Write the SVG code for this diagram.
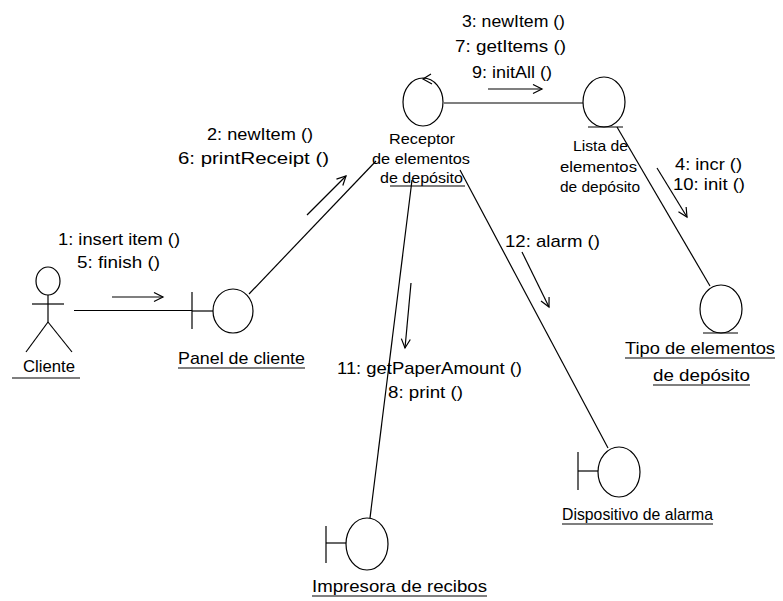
<svg xmlns="http://www.w3.org/2000/svg" width="783" height="601" viewBox="0 0 783 601">
<style>
.s{fill:none;stroke:#000;stroke-width:1.2}
.t{font-family:"Liberation Sans",Arial,sans-serif;font-size:17px;fill:#000}
.n{font-size:15.5px}
.m{fill:none;stroke:#000;stroke-width:1.2;marker-end:url(#ah)}
</style>
<defs>
<marker id="ah" markerWidth="12" markerHeight="12" refX="10" refY="5" orient="auto" markerUnits="userSpaceOnUse">
<path d="M1,0.5 L10,5 L1,9.5" fill="none" stroke="#000" stroke-width="1.2"/>
</marker>
</defs>
<rect width="783" height="601" fill="#fff"/>
<g id="connectors">
<line class="s" x1="74" y1="310.5" x2="192" y2="310.5"/>
<line class="s" x1="249" y1="294" x2="376" y2="161"/>
<line class="s" x1="444" y1="103" x2="583" y2="103"/>
<line class="s" x1="617" y1="127" x2="710" y2="286"/>
<line class="s" x1="412" y1="180" x2="370" y2="518"/>
<line class="s" x1="460" y1="170" x2="608" y2="448"/>
<line class="m" x1="112" y1="297" x2="163" y2="297"/>
<line class="m" x1="307" y1="215" x2="346" y2="176"/>
<line class="m" x1="488" y1="89" x2="542" y2="89"/>
<line class="m" x1="657" y1="168" x2="687" y2="217"/>
<line class="m" x1="411" y1="283" x2="405" y2="348"/>
<line class="m" x1="522" y1="252" x2="549" y2="307"/>
<text class="t" x="58" y="245" textLength="122" lengthAdjust="spacingAndGlyphs">1: insert item ()</text>
<text class="t" x="77" y="268" textLength="83" lengthAdjust="spacingAndGlyphs">5: finish ()</text>
<text class="t" x="207" y="140" textLength="106" lengthAdjust="spacingAndGlyphs">2: newItem ()</text>
<text class="t" x="178" y="164" textLength="151" lengthAdjust="spacingAndGlyphs">6: printReceipt ()</text>
<text class="t" x="462" y="27" textLength="103" lengthAdjust="spacingAndGlyphs">3: newItem ()</text>
<text class="t" x="455" y="52" textLength="111" lengthAdjust="spacingAndGlyphs">7: getItems ()</text>
<text class="t" x="472" y="78" textLength="80" lengthAdjust="spacingAndGlyphs">9: initAll ()</text>
<text class="t" x="675" y="170" textLength="67" lengthAdjust="spacingAndGlyphs">4: incr ()</text>
<text class="t" x="673" y="190" textLength="72" lengthAdjust="spacingAndGlyphs">10: init ()</text>
<text class="t" x="505" y="247" textLength="95" lengthAdjust="spacingAndGlyphs">12: alarm ()</text>
<text class="t" x="337" y="374" textLength="185" lengthAdjust="spacingAndGlyphs">11: getPaperAmount ()</text>
<text class="t" x="388" y="398" textLength="75" lengthAdjust="spacingAndGlyphs">8: print ()</text>
</g>
<g id="cliente">
<ellipse class="s" cx="48" cy="281" rx="12" ry="14"/>
<line class="s" x1="48" y1="295" x2="48" y2="322"/>
<line class="s" x1="32" y1="304" x2="64" y2="304"/>
<line class="s" x1="48" y1="322" x2="26" y2="352"/>
<line class="s" x1="48" y1="322" x2="72" y2="352"/>
<text class="t" x="23" y="372" textLength="52" lengthAdjust="spacingAndGlyphs">Cliente</text>
<line class="s" x1="12" y1="378" x2="80" y2="378"/>
</g>
<g id="panel">
<ellipse class="s" cx="233" cy="311" rx="20" ry="22"/>
<line class="s" x1="192" y1="292" x2="192" y2="329"/>
<line class="s" x1="192" y1="311" x2="213" y2="311"/>
<text class="t" x="178" y="364" textLength="127" lengthAdjust="spacingAndGlyphs">Panel de cliente</text>
<line class="s" x1="178" y1="368" x2="305" y2="368"/>
</g>
<g id="receptor">
<ellipse class="s" cx="423" cy="102" rx="20" ry="24"/>
<path class="s" d="M431,74 L423,79 L432,84"/>
<text class="t n" x="389" y="144" textLength="66" lengthAdjust="spacingAndGlyphs">Receptor</text>
<text class="t n" x="372" y="164" textLength="98" lengthAdjust="spacingAndGlyphs">de elementos</text>
<text class="t n" x="380" y="183" textLength="83" lengthAdjust="spacingAndGlyphs">de depósito</text>
<line class="s" x1="390" y1="186" x2="465" y2="186"/>
</g>
<g id="lista">
<ellipse class="s" cx="604" cy="102" rx="21" ry="25"/>
<line class="s" x1="588" y1="127" x2="623" y2="127"/>
<text class="t n" x="573" y="151" textLength="55" lengthAdjust="spacingAndGlyphs">Lista de</text>
<text class="t n" x="560" y="172" textLength="77" lengthAdjust="spacingAndGlyphs">elementos</text>
<text class="t n" x="560" y="192" textLength="80" lengthAdjust="spacingAndGlyphs">de depósito</text>
</g>
<g id="tipo">
<ellipse class="s" cx="721" cy="309" rx="21" ry="24"/>
<line class="s" x1="703" y1="333" x2="738" y2="333"/>
<text class="t" x="625" y="354" textLength="150" lengthAdjust="spacingAndGlyphs">Tipo de elementos</text>
<line class="s" x1="625" y1="358" x2="775" y2="358"/>
<text class="t" x="653" y="381" textLength="97" lengthAdjust="spacingAndGlyphs">de depósito</text>
<line class="s" x1="653" y1="385" x2="750" y2="385"/>
</g>
<g id="impresora">
<ellipse class="s" cx="367" cy="544" rx="21" ry="26"/>
<line class="s" x1="326" y1="526" x2="326" y2="563"/>
<line class="s" x1="326" y1="543" x2="346" y2="543"/>
<text class="t" x="312" y="592" textLength="175" lengthAdjust="spacingAndGlyphs">Impresora de recibos</text>
<line class="s" x1="312" y1="596" x2="487" y2="596"/>
</g>
<g id="dispositivo">
<ellipse class="s" cx="619" cy="472" rx="21" ry="25"/>
<line class="s" x1="578" y1="452" x2="578" y2="490"/>
<line class="s" x1="578" y1="471" x2="598" y2="471"/>
<text class="t" x="562" y="520" textLength="151" lengthAdjust="spacingAndGlyphs">Dispositivo de alarma</text>
<line class="s" x1="562" y1="524" x2="713" y2="524"/>
</g>
</svg>
